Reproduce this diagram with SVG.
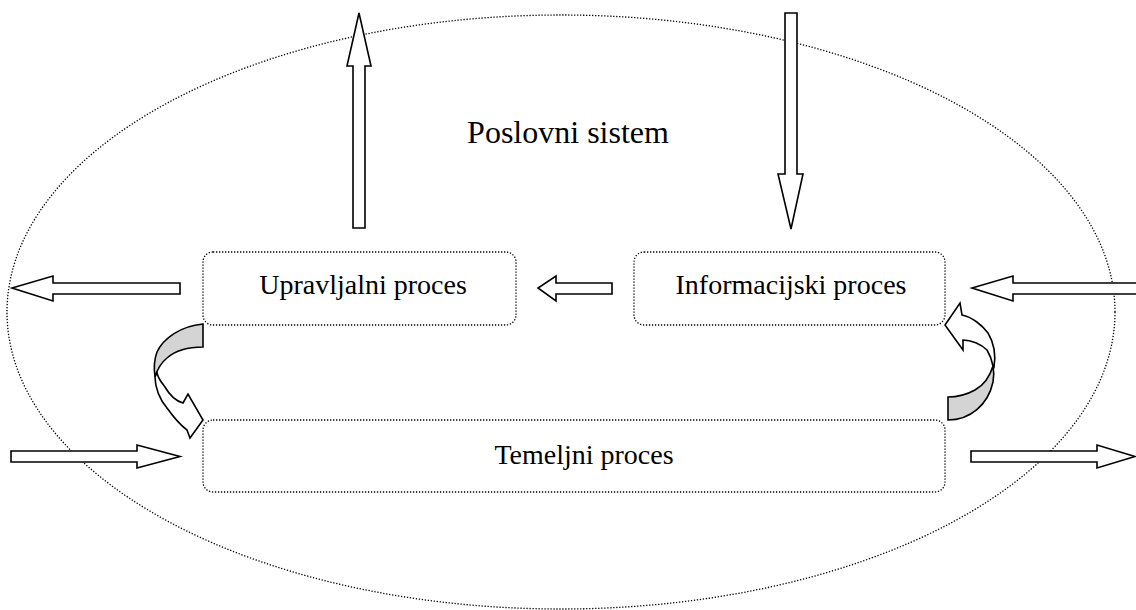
<svg xmlns="http://www.w3.org/2000/svg" width="1136" height="610" viewBox="0 0 1136 610">
<style>
.dot{fill:none;stroke:#000;stroke-width:1.3;stroke-dasharray:1.3 1.7}
.blk{fill:#fff;stroke:#000;stroke-width:1.6;stroke-linejoin:miter}
.gry{fill:#d4d4d4;stroke:#000;stroke-width:1.6}
.lbl{font-family:"Liberation Serif","Times New Roman",serif;font-size:28px;fill:#000;text-anchor:middle}
.big{font-size:32px}
</style>
<rect width="1136" height="610" fill="#fff"/>
<g id="poslovni-sistem">
<ellipse class="dot" cx="561" cy="312" rx="554" ry="297"/>
<text class="lbl big" x="568" y="143">Poslovni sistem</text>
</g>
<g id="upravljalni-proces">
<rect class="dot" x="203" y="252" width="313" height="73" rx="10"/>
<text class="lbl" x="363" y="294">Upravljalni proces</text>
</g>
<g id="informacijski-proces">
<rect class="dot" x="634" y="252" width="311" height="73" rx="10"/>
<text class="lbl" x="791" y="294">Informacijski proces</text>
</g>
<g id="temeljni-proces">
<rect class="dot" x="203" y="420" width="742" height="72" rx="10"/>
<text class="lbl" x="584" y="464">Temeljni proces</text>
</g>
<g id="connectors">
<path class="blk" d="M353,228 L353,66 L347,66 L359,13 L371,66 L365,66 L365,228 Z"/>
<path class="blk" d="M785,13 L797,13 L797,174 L803,174 L791,229 L778,174 L785,174 Z"/>
<path class="blk" d="M180,283 L53,283 L53,276 L12,288 L53,301 L53,294 L180,294 Z"/>
<path class="blk" d="M1142,283 L1013,283 L1013,276 L972,288 L1013,301 L1013,294 L1142,294 Z"/>
<path class="blk" d="M612,283 L556,283 L556,276 L538,288 L556,301 L556,294 L612,294 Z"/>
<path class="blk" d="M11,451 L137,451 L137,445 L180,456.5 L137,468 L137,462 L11,462 Z"/>
<path class="blk" d="M971,451 L1097,451 L1097,445 L1135,456.5 L1097,468 L1097,462 L971,462 Z"/>
<path class="gry" d="M203,324 C180,326 163,339 157,352 C154,360 154,370 155,377 C158,367 162,362 167,358 C175,351 188,347 203,347 Z"/>
<path class="blk" d="M155,377 C155,388 160,400 167,408 C172,415 179,424 187,430 L190,438 L203,420 L188,394 L183,403 C176,401 169,394 165,387 C161,382 158,378 157,373 Z"/>
<path class="gry" d="M948,397 L948,420 C970,420 988,405 993,382 C994,376 994,371 993,366 C990,376 984,385 975,390 C966,395 957,397 948,397 Z"/>
<path class="blk" d="M994,367 C996,355 994,343 988,333 C982,325 972,317 962,315 L960,303 L945,325 L963,350 L963,340 C971,340 981,344 987,350 C990,355 992,360 993,366 Z"/>
</g>
</svg>
